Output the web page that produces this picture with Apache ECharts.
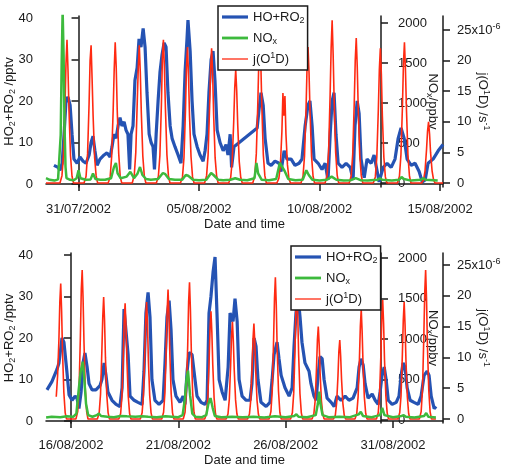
<!DOCTYPE html>
<html><head><meta charset="utf-8">
<script src="https://cdn.jsdelivr.net/npm/echarts@6/dist/echarts.min.js"></script>
<style>html,body{margin:0;padding:0;background:#fff}#c{width:507px;height:467px}</style>
</head><body><div id="c"></div>
<script>
// x values are days since the panel's base date (top: 31/07/2002, bottom: 16/08/2002)
const topBase = [2002, 6, 31];
const botBase = [2002, 7, 16];
const xTicks = [0, 5, 10, 15];
const hoxTicks = [0, 10, 20, 30, 40];
const noxTicks = [0, 500, 1000, 1500, 2000];
const jTicks = [0, 5, 10, 15, 20, 25];

// HO2+RO2 (pptv), top panel
const topHOx = [[-1.02,4.5],[-0.85,4.0],[-0.77,3.3],[-0.68,5],[-0.60,12],[-0.52,20],[-0.44,21],[-0.35,19],[-0.27,12],[-0.19,6],[-0.06,5],[0.06,6.5],[0.19,5.5],[0.31,5],[0.44,7],[0.52,10],[0.60,11.5],[0.68,8],[0.77,4.5],[0.89,6],[1.06,7],[1.18,7.5],[1.31,6.5],[1.39,9],[1.47,12],[1.56,11],[1.64,14],[1.72,16],[1.80,14],[1.89,15],[1.97,13],[2.05,12],[2.12,3.5],[2.18,12],[2.26,14],[2.34,25],[2.43,28],[2.51,35],[2.59,33],[2.68,37.5],[2.76,33],[2.84,22],[2.93,12],[3.01,10],[3.09,9],[3.15,3.5],[3.22,12],[3.30,20],[3.38,27],[3.46,31],[3.55,34],[3.63,33],[3.71,22],[3.80,14],[3.88,11],[4.00,9],[4.13,7],[4.25,5],[4.34,14],[4.42,27],[4.50,35],[4.54,39.5],[4.63,32],[4.71,20],[4.79,12],[4.92,9],[5.04,7],[5.17,5.5],[5.25,8],[5.33,12],[5.41,22],[5.50,30],[5.58,32],[5.66,25],[5.75,13],[5.87,10],[6.00,8],[6.12,9.5],[6.20,7],[6.29,12],[6.35,4],[6.45,9],[7.41,13.5],[7.49,18],[7.57,22],[7.66,19],[7.74,11],[7.86,5],[7.99,4.5],[8.15,5.5],[8.32,5],[8.40,3],[8.53,8],[8.65,6],[8.82,6],[8.98,4.5],[9.15,5],[9.27,6],[9.40,14],[9.52,19],[9.60,20],[9.69,14],[9.77,6],[9.94,5],[10.10,3.5],[10.23,5],[10.35,1],[10.44,12],[10.52,20],[10.60,22],[10.68,12],[10.77,5],[10.93,4],[11.10,5],[11.27,4],[11.39,1],[11.47,14],[11.56,20],[11.64,17],[11.72,6],[11.85,1.5],[11.97,6],[12.14,5],[12.26,7],[12.39,3],[12.47,0.5],[12.64,4],[12.80,5],[12.97,4],[13.13,6],[13.26,11],[13.38,13.5],[13.51,11],[13.63,6],[13.80,4.5],[13.96,5],[14.13,3],[14.26,0.5],[14.38,1],[14.50,5],[14.71,6],[14.92,8],[15.12,9.5]];

// NOx, top panel
const topNOx = [[-1.35,60],[-1.2,40],[-1.0,30],[-0.85,45],[-0.78,60],[-0.74,600],[-0.70,1500],[-0.66,2150],[-0.62,1600],[-0.58,700],[-0.54,200],[-0.5,60],[-0.35,40],[-0.2,35],[-0.08,60],[0.0,160],[0.08,60],[0.3,40],[0.5,45],[0.6,120],[0.7,50],[0.9,40],[1.1,40],[1.35,60],[1.47,200],[1.55,250],[1.62,120],[1.75,60],[2.0,80],[2.15,140],[2.3,60],[2.45,120],[2.55,200],[2.65,100],[2.8,50],[3.0,40],[3.3,50],[3.5,125],[3.6,110],[3.75,50],[4.0,40],[4.3,40],[4.45,100],[4.55,90],[4.75,40],[5.0,35],[5.3,40],[5.5,125],[5.6,100],[5.8,40],[6.0,35],[6.3,40],[6.5,60],[6.7,40],[7.0,35],[7.3,60],[7.38,250],[7.45,120],[7.6,40],[7.9,35],[8.2,50],[8.35,250],[8.45,200],[8.55,150],[8.7,50],[9.0,35],[9.3,40],[9.45,160],[9.55,100],[9.7,40],[10.0,30],[10.3,40],[10.5,80],[10.7,40],[11.0,30],[11.3,35],[11.5,60],[11.7,35],[12.0,30],[12.4,40],[12.5,60],[12.6,40],[13.0,30],[13.3,40],[13.4,75],[13.5,50],[13.8,30],[14.2,40],[14.3,60],[14.4,40],[14.9,30]];

// j(O1D) (1e-6 s^-1): one row per day, values at the hours of jHours
const jHours = [5.5, 7.5, 9, 10.5, 11.5, 12.5, 13.5, 14.5, 16, 17.5, 19];
const topJEdges = [[-1.35, 0], [15.12, 0]];
const topJDays = [-1,0,1,2,3,4,5,6,7,8,9,10,11,12,13,14];
const topJ = [
  [0,1.2,4.6,12.5,19.5,23.4,18.5,11.8,4.5,1.1,0],
  [0,1.1,4.8,13,20,22.5,17,11,4.2,1.2,0],
  [0,1.0,4.4,12,18.5,23,19,12,4.8,1.0,0],
  [0,1.3,5,13.5,19,22.5,18,11.5,4.4,1.1,0],
  [0,1.1,4.5,12.8,20.5,23.4,18.8,12.2,4.6,1.2,0],
  [0,1.0,4.2,12,19,22.2,17.5,11,4.3,1.0,0],
  [0,1.2,4.6,12.5,18.5,22,18,11.2,4.1,1.1,0],
  [0,0.9,3.6,10,15.5,18.5,15,9.5,3.5,0.9,0],
  [0,1.2,4.8,13,20,24,19.5,12.5,4.6,1.2,0],
  [0,0.8,3,8.5,14.7,11,14.2,8,3,0.7,0],
  [0,1.1,4.4,12,18.8,22.2,18,11.5,4.4,1.1,0],
  [0,1.3,5.2,14.5,22,26.6,21,13.5,5,1.3,0],
  [0,1.2,4.7,13,20,23.7,19,12,4.5,1.2,0],
  [0,1.0,4.3,12,18.5,22,17.8,11,4.2,1.0,0],
  [0,1.1,4.6,12.5,19.5,23,18.5,12,4.5,1.1,0],
  [0,0.5,2,5.5,8.5,10,8,5,2,0.5,0]
];

// bottom panel
const botHOx = [[-1.12,7.5],[-0.89,9.5],[-0.65,12.5],[-0.56,14],[-0.42,20],[-0.33,19],[-0.19,11.8],[-0.09,6.3],[0.05,5],[0.19,6],[0.28,5.5],[0.37,3],[0.47,7],[0.56,14],[0.65,16.4],[0.75,13],[0.84,9],[0.98,7.5],[1.16,7.5],[1.35,8.5],[1.44,10],[1.54,14],[1.63,11],[1.72,7],[1.91,5],[2.10,4],[2.28,3.5],[2.38,8],[2.47,27],[2.56,27],[2.66,16],[2.75,6],[2.94,5],[3.12,4.5],[3.31,4],[3.40,12],[3.49,26],[3.59,31],[3.68,25],[3.77,10],[3.91,5],[4.10,4],[4.29,5],[4.38,14],[4.47,25],[4.57,29],[4.66,22],[4.75,10],[4.89,6],[5.08,4.5],[5.22,6],[5.31,4],[5.41,12],[5.50,16.5],[5.64,16],[5.73,12],[5.87,6],[6.06,4.5],[6.24,4],[6.34,5],[6.43,26],[6.52,30],[6.62,36],[6.71,39.5],[6.80,26],[6.90,10],[7.04,7],[7.18,5],[7.32,13],[7.41,26],[7.55,24],[7.64,29.5],[7.74,24],[7.83,10],[7.97,6],[8.16,5],[8.34,5],[8.43,9],[8.53,20],[8.62,18],[8.71,10],[8.85,4.5],[9.09,3.5],[9.27,4.5],[9.37,10],[9.46,16],[9.60,19],[9.69,15],[9.79,11],[9.97,8],[10.16,6],[10.30,8],[10.39,18],[10.48,26],[10.58,30],[10.67,25],[10.76,19],[10.90,14],[11.09,12],[11.18,9],[11.32,6],[11.42,5],[11.51,11],[11.60,15.5],[11.70,15],[11.79,10],[11.93,5.5],[12.12,4.5],[12.26,3.5],[12.39,6],[12.58,5],[12.77,6],[12.95,5],[13.14,5.5],[13.33,8],[13.42,13],[13.51,15],[13.61,13.5],[13.70,9],[13.84,5.5],[14.03,6.5],[14.17,5],[14.31,4],[14.40,7],[14.49,11],[14.59,13],[14.68,10],[14.78,5],[14.96,4],[15.15,4.5],[15.28,6],[15.38,11],[15.47,14],[15.56,13],[15.66,8],[15.80,5],[15.98,4.5],[16.17,4],[16.31,6],[16.45,11],[16.59,12],[16.68,11],[16.78,6],[16.92,3],[17.01,3.5]];

const botNOx = [[-1.16,30],[-0.9,40],[-0.5,35],[-0.2,45],[0.1,40],[0.25,80],[0.35,350],[0.45,600],[0.55,720],[0.62,500],[0.7,200],[0.8,60],[1.0,40],[1.2,60],[1.3,80],[1.4,50],[1.7,40],[2.0,35],[2.3,50],[2.6,45],[3.0,40],[3.3,45],[3.6,40],[4.0,35],[4.4,45],[4.7,40],[5.0,35],[5.2,60],[5.3,250],[5.38,500],[5.45,610],[5.55,300],[5.65,80],[5.8,40],[6.1,35],[6.3,60],[6.4,200],[6.5,270],[6.6,150],[6.7,50],[7.0,35],[7.5,40],[8.0,35],[8.5,40],[9.0,30],[9.5,45],[10.0,35],[10.4,50],[10.5,70],[10.6,40],[11.0,35],[11.4,60],[11.5,200],[11.56,350],[11.62,200],[11.72,60],[12.0,35],[12.5,40],[13.0,35],[13.4,70],[13.5,100],[13.6,50],[14.0,35],[14.4,60],[14.5,150],[14.6,60],[15.0,35],[15.4,50],[15.5,60],[15.6,40],[16.0,30],[16.45,50],[16.55,85],[16.65,40],[17.0,30]];

const botJEdges = [[17.0, 0]];
const botJDays = [-1,0,1,2,3,4,5,6,7,8,9,10,11,12,13,14,15,16];
const botJ = [
  [null,3.6,7,13,19,22,17.5,11,4.3,1.0,0],
  [0,1.2,4.8,13.5,21,24.2,19.5,12.5,4.7,1.2,0],
  [0,1.0,4,11,16.5,19.8,16,10,3.9,1.0,0],
  [0,0.9,3.8,10.5,16,18.8,15,9.5,3.7,0.9,0],
  [0,1.0,3.9,10.8,16,19,15.5,9.6,3.8,1.0,0],
  [0,1.1,4.2,11.5,17.5,21,17,10.5,4.1,1.0,0],
  [0,1.1,4.5,12,19,22.2,17.8,11.2,4.3,1.1,0],
  [0,0.9,3.5,9.8,15,17.5,14,8.8,3.4,0.9,0],
  [0,0.8,3.2,8.8,13.5,15.8,12.6,8,3.1,0.8,0],
  [0,0.8,3.1,8.5,13,15.5,12.5,7.8,3,0.8,0],
  [0,1.2,4.6,12.8,19.5,23,18.5,11.5,4.5,1.1,0],
  [0,1.0,4.2,11.5,18,21,17,10.5,4.1,1.0,0],
  [0,0.8,3,8.3,12.8,15,12,7.5,2.9,0.8,0],
  [0,0.6,2.6,7,11,12.8,10.2,6.4,2.5,0.6,0],
  [0,0.9,3.6,9.8,15,17.8,14.2,9,3.5,0.9,0],
  [0,1.0,3.9,10.6,16.5,19.3,15.5,9.7,3.8,1.0,0],
  [0,1.0,3.8,10.5,16,19,15.2,9.5,3.7,0.9,0],
  [0,1.2,4.8,13.5,20.5,24.2,19.5,12,4.7,1.2,0]
];

const FONT = '"Liberation Sans", Arial, Helvetica, sans-serif';
const BLUE = '#2553b3', GREEN = '#3dba3d', RED = '#ff2a12', INK = '#1a1a1a';

function buildJ(days, rows, edgesStart, edgesEnd) {
  const pts = edgesStart.slice();
  days.forEach((d, i) => jHours.forEach((h, k) => pts.push([d + h / 24, rows[i][k]])));
  return pts.concat(edgesEnd);
}
const topJPts = buildJ(topJDays, topJ, [topJEdges[0]], [topJEdges[1]]);
const botJPts = buildJ(botJDays, botJ, [], botJEdges);

function fmtDate(base, v) {
  const t = new Date(Date.UTC(base[0], base[1], base[2]) + Math.round(v) * 86400000);
  const p = n => (n < 10 ? '0' : '') + n;
  return p(t.getUTCDate()) + '/' + p(t.getUTCMonth() + 1) + '/' + t.getUTCFullYear();
}

const rich = {
  sub: { fontSize: 9, verticalAlign: 'bottom', lineHeight: 9, fontFamily: FONT, color: INK },
  sup: { fontSize: 9, verticalAlign: 'top', lineHeight: 9, fontFamily: FONT, color: INK }
};
const lineCommon = { show: true, lineStyle: { color: INK, width: 1.5 } };
const tickCommon = { show: true, length: 7, inside: false, lineStyle: { color: INK, width: 1.5 } };

function xAx(gi, base, min, max) {
  return {
    type: 'value', gridIndex: gi, min: min, max: max, position: 'bottom',
    name: 'Date and time', nameLocation: 'middle', nameGap: 31, nameMoveOverlap: false,
    nameTextStyle: { fontSize: 13, color: INK, fontFamily: FONT },
    axisLine: lineCommon, axisTick: Object.assign({ customValues: xTicks }, tickCommon),
    splitLine: { show: false },
    axisLabel: { customValues: xTicks, margin: 16, fontSize: 13, color: INK, fontFamily: FONT,
      formatter: v => fmtDate(base, v) }
  };
}
function yAx(gi, pos, offset, min, max, ticks, name, nameGap, nameRotate, margin, fmt) {
  return {
    type: 'value', gridIndex: gi, position: pos, offset: offset, min: min, max: max,
    name: name, nameLocation: 'middle', nameGap: nameGap, nameRotate: nameRotate, nameMoveOverlap: false,
    nameTextStyle: { fontSize: 13, color: INK, fontFamily: FONT, lineHeight: 16, rich: rich },
    axisLine: lineCommon, axisTick: Object.assign({ customValues: ticks }, tickCommon),
    splitLine: { show: false },
    axisLabel: { customValues: ticks, margin: margin, fontSize: 13, color: INK, fontFamily: FONT,
      lineHeight: 16, rich: rich, formatter: fmt || (v => String(v)) }
  };
}
const jFmt = v => (v === 25 ? '25x10{sup|-6}' : String(v));
const legendNames = { 'HO+RO2': 'HO+RO{sub|2}', 'NOx': 'NO{sub|x}', 'j(O1D)': 'j(O{sup|1}D)' };
function legendAt(left, top) {
  return {
    left: left, top: top, orient: 'vertical',
    data: [
      { name: 'HO+RO2', icon: 'path://M0 0H26V3.2H0Z' },
      { name: 'NOx', icon: 'path://M0 0H26V2.8H0Z' },
      { name: 'j(O1D)', icon: 'path://M0 0H26V1.3H0Z' }
    ],
    symbolKeepAspect: true,
    backgroundColor: '#fff', borderColor: INK, borderWidth: 1.5, borderRadius: 0,
    padding: [3, 3, 3, 4], itemGap: 5, itemWidth: 26, itemHeight: 14, selectedMode: false,
    textStyle: { fontSize: 13, color: INK, fontFamily: FONT, lineHeight: 16, rich: rich },
    formatter: n => legendNames[n]
  };
}
function ser(name, xi, yi, data, color, width, z) {
  return { type: 'line', name: name, xAxisIndex: xi, yAxisIndex: yi, data: data, symbol: 'none',
    showSymbol: false, connectNulls: false, clip: true, z: z, animation: false,
    lineStyle: { color: color, width: width }, itemStyle: { color: color } };
}

const chart = echarts.init(document.getElementById('c'), null, { renderer: 'canvas' });
chart.setOption({
  animation: false,
  backgroundColor: '#fff',
  textStyle: { fontFamily: FONT },
  grid: [
    { left: 46, top: 16, width: 397, height: 171, containLabel: false, outerBoundsMode: 'none' },
    { left: 46, top: 253, width: 397, height: 170, containLabel: false, outerBoundsMode: 'none' }
  ],
  legend: [legendAt(218, 6), legendAt(291, 246)],
  xAxis: [xAx(0, topBase, -1.35, 15.12), xAx(1, botBase, -1.165, 17.33)],
  yAxis: [
    yAx(0, 'left', 0, -0.72, 40.48, hoxTicks, 'HO{sub|2}+RO{sub|2} /pptv', 29, 90, 13),
    yAx(0, 'right', -62, -50, 2087.5, noxTicks, 'NO{sub|x}/ppbv', 44, -90, 17),
    yAx(0, 'right', 0, -0.65, 27.29, jTicks, 'j(O{sup|1}D) /s{sup|-1}', 32, -90, 14, jFmt),
    yAx(1, 'left', 0, -0.48, 40.48, hoxTicks, 'HO{sub|2}+RO{sub|2} /pptv', 29, 90, 13),
    yAx(1, 'right', -62, -37, 2062, noxTicks, 'NO{sub|x}/ppbv', 44, -90, 17),
    yAx(1, 'right', 0, -0.65, 26.95, jTicks, 'j(O{sup|1}D) /s{sup|-1}', 32, -90, 14, jFmt)
  ],
  series: [
    ser('HO+RO2', 0, 0, topHOx, BLUE, 3.2, 2),
    ser('j(O1D)', 0, 2, topJPts, RED, 1.6, 3),
    ser('NOx', 0, 1, topNOx, GREEN, 2.5, 4),
    ser('HO+RO2', 1, 3, botHOx, BLUE, 3.2, 2),
    ser('j(O1D)', 1, 5, botJPts, RED, 1.6, 3),
    ser('NOx', 1, 4, botNOx, GREEN, 2.5, 4)
  ]
});
</script>
</body></html>
